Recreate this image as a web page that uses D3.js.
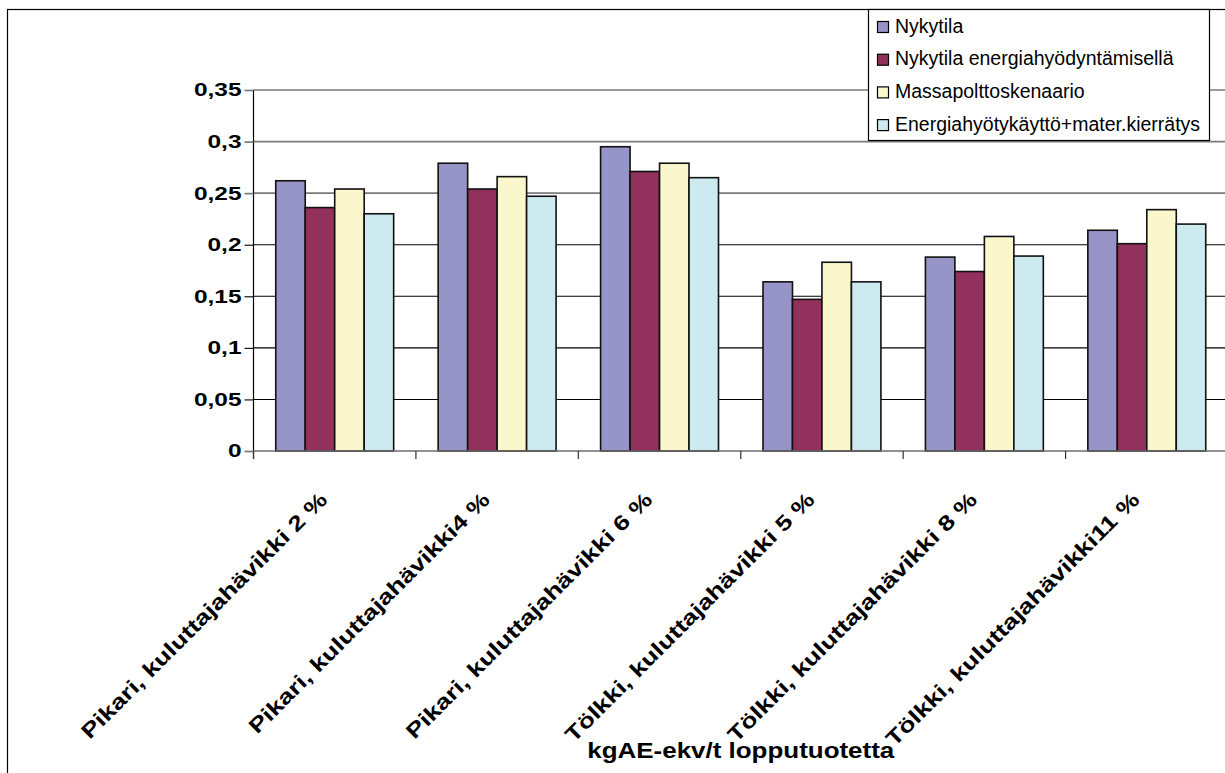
<!DOCTYPE html>
<html>
<head>
<meta charset="utf-8">
<script src="https://cdn.jsdelivr.net/npm/d3@7"></script>
<style>
  html, body { margin: 0; padding: 0; background: #fff; }
  svg { display: block; }
  text { font-family: "Liberation Sans", Arial, sans-serif; fill: #000; }
</style>
</head>
<body>
<svg id="chart" width="1225" height="773"></svg>
<script>
// Categories (x axis)
const categories = [
  "Pikari, kuluttajahävikki 2 %",
  "Pikari, kuluttajahävikki4 %",
  "Pikari, kuluttajahävikki 6 %",
  "Tölkki, kuluttajahävikki 5 %",
  "Tölkki, kuluttajahävikki 8 %",
  "Tölkki, kuluttajahävikki11 %"
];

// Series names
const seriesNames = [
  "Nykytila",
  "Nykytila energiahyödyntämisellä",
  "Massapolttoskenaario",
  "Energiahyötykäyttö+mater.kierrätys"
];

// Series values, kgAE-ekv/t
const nykytila          = [0.262, 0.279, 0.295, 0.164, 0.188, 0.214];
const nykytilaEnergia   = [0.236, 0.254, 0.271, 0.147, 0.174, 0.201];
const massapoltto       = [0.254, 0.266, 0.279, 0.183, 0.208, 0.234];
const energiaKierratys  = [0.230, 0.247, 0.265, 0.164, 0.189, 0.220];

// Y axis ticks and their labels
const yTicks = [0, 0.05, 0.1, 0.15, 0.2, 0.25, 0.3, 0.35];
const yTickLabels = ["0", "0,05", "0,1", "0,15", "0,2", "0,25", "0,3", "0,35"];

const axisTitle = "kgAE-ekv/t lopputuotetta";

const seriesValues = [nykytila, nykytilaEnergia, massapoltto, energiaKierratys];
const colors = ["#9794c8", "#92315c", "#faf7cd", "#cdeaf0"];

const svg = d3.select("#chart");

// plot frame
const plot = { left: 253.5, right: 1228, top: 90, bottom: 451 };

const x = d3.scaleBand()
  .domain(categories)
  .range([plot.left, plot.right])
  .paddingInner(0.274)
  .paddingOuter(0.137);

const xSub = d3.scaleBand()
  .domain(d3.range(seriesNames.length))
  .range([0, x.bandwidth()])
  .padding(0);

const y = d3.scaleLinear()
  .domain([0, 0.35])
  .range([plot.bottom, plot.top]);

// outer chart border
svg.append("rect")
  .attr("x", 7.5).attr("y", 9.5)
  .attr("width", 1300).attr("height", 900)
  .attr("fill", "none")
  .attr("stroke", "#000")
  .attr("stroke-width", 1.2);

// gridlines
function gridColor(v) { return (v >= 0.25 || v === 0) ? "#7a7a7a" : "#000"; }
function gridWidth(v) { return (v >= 0.25 || v === 0) ? 1.7 : 1.1; }

svg.append("g").selectAll("line")
  .data(yTicks.filter(v => v > 0))
  .join("line")
  .attr("x1", plot.left).attr("x2", plot.right)
  .attr("y1", d => y(d)).attr("y2", d => y(d))
  .attr("stroke", d => gridColor(d))
  .attr("stroke-width", d => gridWidth(d));

// bars
const groups = svg.append("g").selectAll("g")
  .data(categories)
  .join("g")
  .attr("transform", d => `translate(${x(d)},0)`);

groups.selectAll("rect")
  .data((c, ci) => seriesValues.map((vals, si) => ({ si, v: vals[ci] })))
  .join("rect")
  .attr("x", d => xSub(d.si))
  .attr("width", xSub.bandwidth())
  .attr("y", d => y(d.v))
  .attr("height", d => y(0) - y(d.v))
  .attr("fill", d => colors[d.si])
  .attr("stroke", "#111")
  .attr("stroke-width", 1.6);

// y axis
const yAxis = d3.axisLeft(y)
  .tickValues(yTicks)
  .tickSize(9)
  .tickFormat("");
const gy = svg.append("g")
  .attr("transform", `translate(${plot.left},0)`)
  .call(yAxis);
gy.select(".domain").attr("stroke", "#000").attr("stroke-width", 1.2)
  .attr("d", `M0,${plot.top}V${plot.bottom + 8}`);
gy.selectAll(".tick line")
  .attr("stroke", d => gridColor(d))
  .attr("stroke-width", d => gridWidth(d));

// y tick labels (bold, horizontally widened)
svg.append("g").selectAll("text")
  .data(yTicks)
  .join("text")
  .attr("transform", d => `translate(${plot.left - 12},${y(d)}) scale(1.36,1)`)
  .attr("text-anchor", "end")
  .attr("dy", "0.36em")
  .attr("font-size", 18)
  .attr("font-weight", "bold")
  .text((d, i) => yTickLabels[i]);

// x axis line and category boundary ticks
const boundaries = categories.map(c => x(c) - x.step() * x.paddingInner() / 2)
  .concat([plot.right]);
svg.append("line")
  .attr("x1", plot.left).attr("x2", plot.right)
  .attr("y1", plot.bottom).attr("y2", plot.bottom)
  .attr("stroke", "#6e6e6e").attr("stroke-width", 1.7);
svg.append("g").selectAll("line")
  .data(boundaries)
  .join("line")
  .attr("x1", d => d).attr("x2", d => d)
  .attr("y1", plot.bottom).attr("y2", plot.bottom + 8)
  .attr("stroke", "#333").attr("stroke-width", 1.2);

// rotated category labels
svg.append("g").selectAll("text")
  .data(categories)
  .join("text")
  .attr("transform", d => `translate(${x(d) + x.bandwidth() / 2 - 6},${plot.bottom + 50}) rotate(-45) scale(1.26,1)`)
  .attr("text-anchor", "end")
  .attr("font-size", 21)
  .attr("font-weight", "bold")
  .text(d => d);

// axis title
svg.append("text")
  .attr("transform", `translate(${(plot.left + plot.right) / 2},758) scale(1.18,1)`)
  .attr("text-anchor", "middle")
  .attr("font-size", 22)
  .attr("font-weight", "bold")
  .text(axisTitle);

// legend
const legend = svg.append("g");
legend.append("rect")
  .attr("x", 868.5).attr("y", 9.5)
  .attr("width", 341).attr("height", 131)
  .attr("fill", "#fff")
  .attr("stroke", "#000")
  .attr("stroke-width", 1.2);

const items = legend.selectAll("g.item")
  .data(seriesNames)
  .join("g")
  .attr("class", "item")
  .attr("transform", (d, i) => `translate(877,${21 + i * 32.7})`);
items.append("rect")
  .attr("x", 0.5).attr("y", 0.5)
  .attr("width", 11).attr("height", 11)
  .attr("fill", (d, i) => colors[i])
  .attr("stroke", "#000")
  .attr("stroke-width", 1.2);
items.append("text")
  .attr("x", 18).attr("y", 11.5)
  .attr("font-size", 19.5)
  .text(d => d);
</script>
</body>
</html>
